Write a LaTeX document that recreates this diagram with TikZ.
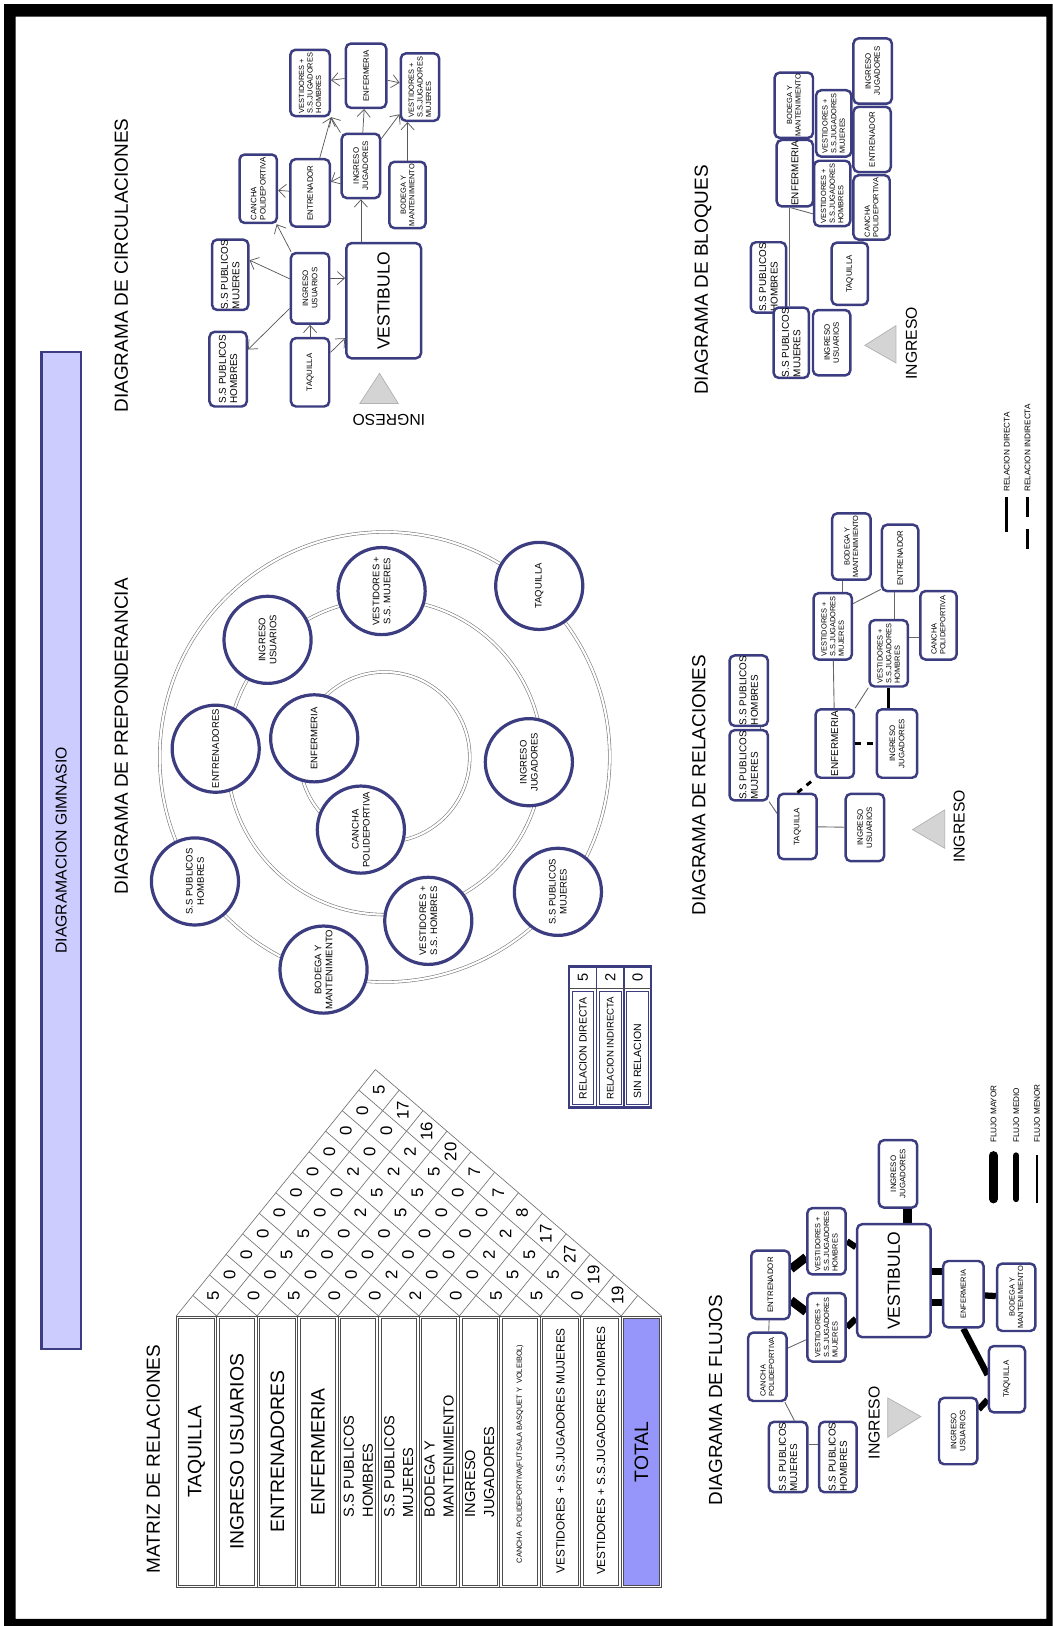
\documentclass[tikz,border=0pt]{standalone}
\usepackage{fontspec}
\setmainfont{Liberation Sans}
\usetikzlibrary{arrows.meta}

\definecolor{navy}{RGB}{60,60,128}
\definecolor{lavender}{RGB}{204,204,255}
\definecolor{totalblue}{RGB}{150,150,250}
\definecolor{ringgray}{RGB}{120,120,120}
\definecolor{trigray}{RGB}{212,212,212}

\newcommand{\fs}[2]{\fontsize{#1}{#2}\selectfont}

\pgfdeclarelayer{bg}
\pgfsetlayers{bg,main}

\tikzset{
  heading/.style={rotate=90, font=\fs{13}{15}},
  rbox/.style 2 args={draw=navy, line width=1.7pt, fill=white, rounded corners=3.5pt,
    rotate=90, inner sep=0.5pt, minimum width=#2*0.25mm, minimum height=#1*0.25mm},
  txtbox/.style={font=\fs{5.4}{6.3}},
  txtsmall/.style={font=\fs{5.1}{5.9}},
  txtss/.style={font=\fs{6.8}{7.8}},
  txtenf/.style={font=\fs{6.8}{7.8}},
  txtbig/.style={font=\fs{12}{13}},
  pcirc/.style={circle, draw=navy, line width=2.2pt, fill=white, inner sep=0pt,
    minimum size=84*0.25mm, rotate=90, align=center, font=\fs{6.5}{7.6}},
  ring/.style={draw=ringgray, line width=0.4pt, double=white, double distance=1.5pt},
  circarrow/.style={draw=black!65, line width=0.5pt, -{Straight Barb[length=5pt,width=9pt]}},
  rel/.style={draw=black!60, line width=0.6pt},
  reldirect/.style={draw=black, line width=2pt},
  relindirect/.style={draw=black, line width=2pt, dash pattern=on 4pt off 4pt},
  flowmax/.style={draw=black, line width=6pt},
  flowmid/.style={draw=black, line width=4.3pt},
  flowmin/.style={draw=black!60, line width=0.6pt},
  strip/.style={draw=black!70, line width=0.6pt},
  cellgrid/.style={draw=black!55, line width=0.45pt},
  cellnum/.style={rotate=90, font=\fs{11.5}{12}, inner sep=0pt},
  mbig/.style={rotate=90, font=\fs{13.3}{15}},
  mmid/.style={rotate=90, anchor=west, align=left, font=\fs{10}{13}},
  mvest/.style={rotate=90, font=\fs{8.1}{9}},
  legbox/.style={rotate=90, font=\fs{7.2}{8}, inner sep=0.5pt},
  legsm/.style={rotate=90, font=\fs{5.6}{6.5}, inner sep=0.5pt},
  entry/.style={draw=gray!60, fill=trigray, line width=0.5pt},
  ingreso/.style={font=\fs{10.8}{12}}
}

\begin{document}
\begin{tikzpicture}[x=0.25mm, y=-0.25mm]
\useasboundingbox (0,0) rectangle (1015,1568);
% frame
\fill[black, even odd rule] (4,4) rectangle (1015,1568) (15,16) rectangle (1009,1561);
% title bar
\node[draw=navy, line width=1.4pt, fill=lavender, rotate=90, minimum width=962*0.25mm,
  minimum height=38*0.25mm, font=\fs{10.8}{12}] (bar) at (59,820) {DIAGRAMACION GIMNASIO};
% headings
\node[heading] (tCirc) at (117,256) {DIAGRAMA DE CIRCULACIONES};
\node[heading] (tPrep) at (117,710) {DIAGRAMA DE PREPONDERANCIA};
\node[heading] (tMat) at (148,1407) {MATRIZ DE RELACIONES};
\node[heading] (tRel) at (674,757) {DIAGRAMA DE RELACIONES};
\node[heading] (tBlo) at (678,270) {DIAGRAMA DE BLOQUES};
\node[heading] (tFlu) at (690,1350) {DIAGRAMA DE FLUJOS};

% ---------- preponderancia
\draw[ring] (371,730) circle[radius=217*0.25mm];
\draw[ring] (371,730) circle[radius=152*0.25mm];
\draw[ring] (371,730) circle[radius=82*0.25mm];
\node[pcirc] (pTAQ) at (520,565) {TAQUILLA};
\node[pcirc] (pVSM) at (368,570) {VESTIDORES +\\S.S. MUJERES};
\node[pcirc] (pIU) at (258,617) {INGRESO\\USUARIOS};
\node[pcirc] (pENT) at (208,722) {ENTRENADORES};
\node[pcirc] (pENF) at (303,712) {ENFERMERIA};
\node[pcirc] (pCAN) at (348,800) {CANCHA\\POLIDEPORTIVA};
\node[pcirc] (pIJ) at (510,735) {INGRESO\\JUGADORES};
\node[pcirc] (pSSH) at (188,850) {S.S PUBLICOS\\HOMBRES};
\node[pcirc] (pVSH) at (413,888) {VESTIDORES +\\S.S. HOMBRES};
\node[pcirc] (pSSM) at (538,860) {S.S PUBLICOS\\MUJERES};
\node[pcirc] (pBOD) at (312,935) {BODEGA Y\\MANTENIMIENTO};

% ---------- matriz de relaciones
\foreach \k in {0,...,10}
  \draw[strip] (170+39*\k,1269) rectangle (209+39*\k,1531)
    (172.5+39*\k,1271.5) rectangle (206.5+39*\k,1528.5);
\draw[strip] (599,1269) rectangle (638,1531);
\draw[strip, fill=totalblue] (601.5,1271.5) rectangle (635.5,1528.5);
% diamond grid
\foreach \k in {0,...,11}
  \draw[cellgrid] (170+39*\k,1269) -- ++(16*12-16*\k,-19.8*12+19.8*\k);
\foreach \k in {1,...,12}
  \draw[cellgrid] (170+39*\k,1269) -- (170+16*\k,1269-19.8*\k);
% cell values, one diagonal per space
\foreach \i/\vals in {1/{5,0,0,0,0,0,0,0,0,0,5},2/{0,0,5,5,0,0,2,0,0,17},
    3/{5,0,0,0,2,5,2,2,16},4/{0,0,0,0,5,5,5,20},5/{0,2,0,0,0,0,7},6/{2,0,0,0,0,7},
    7/{0,0,2,2,8},8/{5,5,5,17},9/{5,5,27},10/{0,19},11/{19}}
  \foreach \v [count=\k] in \vals
    \node[cellnum] (n\i-\k) at (150.5+39*\i+16*\k,1269-19.8*\k) {\v};
% space labels
\node[mbig] (mTAQ) at (189.5,1400) {TAQUILLA};
\node[mbig] (mIU) at (228.5,1400) {INGRESO USUARIOS};
\node[mbig] (mENT) at (267.5,1400) {ENTRENADORES};
\node[mbig] (mENF) at (306.5,1400) {ENFERMERIA};
\node[mmid] (mSSH) at (345.5,1468) {S.S PUBLICOS\\HOMBRES};
\node[mmid] (mSSM) at (384.5,1468) {S.S PUBLICOS\\MUJERES};
\node[mmid] (mBOD) at (423.5,1468) {BODEGA Y\\MANTENIMIENTO};
\node[mmid] (mIJ) at (462.5,1468) {INGRESO\\JUGADORES};
\node[rotate=90, font=\fs{5.1}{6}] (mCAN) at (501.5,1402) {CANCHA\ \ POLIDEPORTIVA(FUTSALA BASQUET Y\ \ VOLEIBOL)};
\node[mvest] (mVSM) at (540.5,1399) {VESTIDORES + S.S.JUGADORES MUJERES};
\node[mvest] (mVSH) at (579.5,1399) {VESTIDORES + S.S.JUGADORES HOMBRES};
\node[mbig] (mTOT) at (618.5,1400) {TOTAL};
% relation values
\draw[navy, line width=1.5pt] (549,932) rectangle (628,1068);
\draw[navy, line width=1.2pt] (575.3,932) -- (575.3,1068) (601.7,932) -- (601.7,1068);
\draw[black!70, line width=0.6pt] (549,953.5) -- (628,953.5);
\foreach \k in {0,1,2}
  \draw[navy, line width=0.6pt] (551.8+26.3*\k,956) rectangle (572.5+26.3*\k,1065.5);
\node[legbox] (vDir) at (562.2,1011) {RELACION DIRECTA};
\node[legbox, font=\fs{6.6}{7.5}] (vInd) at (588.5,1011) {RELACION INDIRECTA};
\node[legbox, anchor=west] (vSin) at (614.8,1060) {SIN RELACION};
\node[cellnum, font=\fs{10}{11}] (vD) at (562.2,943) {5};
\node[cellnum, font=\fs{10}{11}] (vI) at (588.5,943) {2};
\node[cellnum, font=\fs{10}{11}] (vS) at (614.8,943) {0};

% ---------- circulaciones
\node[rbox={36}{72}, txtss, align=left] (cSSH) at (220,356) {S.S PUBLICOS\\HOMBRES};
\node[rbox={35}{64}, txtss, align=left] (cSSM) at (222,265) {S.S PUBLICOS\\MUJERES};
\node[rbox={37}{68}, txtbox, align=center] (cIU) at (299,278) {INGRESO\\USUARIOS};
\node[rbox={37}{66}, txtbox] (cTAQ) at (299,359) {TAQUILLA};
\node[rbox={72}{111}, txtbig] (cVES) at (370,290) {VESTIBULO};
\node[rbox={36}{66}, txtbox, align=left] (cCAN) at (249,182) {CANCHA\\POLIDEPORTIVA};
\node[rbox={38}{65}, txtbox] (cENT) at (299,186) {ENTRENADOR};
\node[rbox={37}{62}, txtbox, align=center] (cIJ) at (348,160) {INGRESO\\JUGADORES};
\node[rbox={35}{64}, txtsmall, align=center] (cBOD) at (393,188) {BODEGA Y\\MANTENIMIENTO};
\node[rbox={38}{64}, txtsmall, align=left] (cVSH) at (299,80) {VESTIDORES +\\S.S.JUGADORES\\HOMBRES};
\node[rbox={39}{62}, txtbox] (cENF) at (353,73) {ENFERMERIA};
\node[rbox={37}{65}, txtsmall, align=left] (cVSM) at (405,84) {VESTIDORES +\\S.S.JUGADORES\\MUJERES};
\draw[circarrow] (cTAQ) -- (cIU);
\draw[circarrow] (cTAQ) -- (cVES);
\draw[circarrow] (cIU) -- (cSSH);
\draw[circarrow] (cIU) -- ([yshift=10pt]cSSM.south);
\draw[circarrow] ([yshift=7pt]cIU.south) -- ([yshift=7pt]cIU.south -| cVES.north);
\draw[circarrow] (cIU) -- (cCAN);
\draw[circarrow] (cIJ.west |- cVES.east) -- (cIJ.west);
\draw[circarrow] (cIJ) -- (cENT);
\draw[circarrow] (cENT) -- (cCAN);
\draw[circarrow] (cENT) -- (cVSH.south west);
\draw[circarrow] (cIJ) -- (cVSH);
\draw[circarrow] (cIJ) -- (cENF);
\draw[circarrow] (cIJ) -- (cVSM);
\draw[circarrow] (cENF) -- (cVSH);
\draw[circarrow] (cENF) -- (cVSM);
\draw[circarrow] (cBOD) -- (cBOD |- cVSM.west);
\draw[entry] (366,360) -- (347,389) -- (384,389) -- cycle;
\node[ingreso, rotate=180] (cIN) at (375,405) {INGRESO};

% ---------- bloques
\node[rbox={34}{61}, txtss, align=left] (bSSH) at (741,267.5) {S.S PUBLICOS\\HOMBRES};
\node[rbox={34}{63}, txtss, align=left] (bSSM) at (763,330.5) {S.S PUBLICOS\\MUJERES};
\node[rbox={36}{63}, txtbox, align=center] (bIU) at (802,330.5) {INGRESO\\USUARIOS};
\node[rbox={35}{60}, txtbox] (bTAQ) at (819.5,264) {TAQUILLA};
\node[rbox={35}{62}, txtenf] (bENF) at (766.5,167) {ENFERMERIA};
\node[rbox={37}{63}, txtsmall, align=center] (bBOD) at (765.5,101.5) {BODEGA Y\\MANTENIMIENTO};
\node[rbox={35}{63}, txtsmall, align=left] (bVSH) at (802.5,186.5) {VESTIDORES +\\S.S.JUGADORES\\HOMBRES};
\node[rbox={34}{64}, txtsmall, align=left] (bVSM) at (804,119) {VESTIDORES +\\S.S.JUGADORES\\MUJERES};
\node[rbox={35}{62}, txtsmall, align=left] (bCAN) at (840.5,200) {CANCHA\\POLIDEPORTIVA};
\node[rbox={36}{63}, txtbox] (bENT) at (841,134.5) {ENTRENADOR};
\node[rbox={37}{63}, txtbox, align=center] (bIJ) at (841.5,68.5) {INGRESO\\JUGADORES};
\draw[rel] ([xshift=-4pt]bENF.west) -- ([xshift=-4pt]bENF.west |- bSSM.east);
\draw[rel] ([xshift=-3pt]bENF.west) -- ([yshift=-14pt]bVSH.north);
\draw[rel] (bTAQ) -- (bCAN);
\draw[entry] (834,333) -- (864,314) -- (864,350) -- cycle;
\node[ingreso, rotate=90] (bIN) at (879,331) {INGRESO};

% ---------- relaciones
\node[rbox={37}{66}, txtss, align=left] (rSSM) at (722,738) {S.S PUBLICOS\\MUJERES};
\node[rbox={37}{66}, txtss, align=left] (rSSH) at (722,666) {S.S PUBLICOS\\HOMBRES};
\node[rbox={37}{63}, txtbox] (rTAQ) at (769,797) {TAQUILLA};
\node[rbox={37}{65}, txtbox, align=center] (rIU) at (834,798) {INGRESO\\USUARIOS};
\node[rbox={37}{66}, txtenf] (rENF) at (805,717) {ENFERMERIA};
\node[rbox={39}{66}, txtbox, align=center] (rIJ) at (865,717) {INGRESO\\JUGADORES};
\node[rbox={37}{64}, txtsmall, align=left] (rVSM) at (803,604) {VESTIDORES +\\S.S.JUGADORES\\MUJERES};
\node[rbox={37}{64}, txtsmall, align=left] (rVSH) at (857,630) {VESTIDORES +\\S.S.JUGADORES\\HOMBRES};
\node[rbox={37}{64}, txtsmall, align=center] (rBOD) at (821,527) {BODEGA Y\\MANTENIMIENTO};
\node[rbox={35}{64}, txtbox] (rENT) at (868,538) {ENTRENADOR};
\node[rbox={35}{66}, txtsmall, align=left] (rCAN) at (905,603) {CANCHA\\POLIDEPORTIVA};
\draw[rel] ([xshift=8pt]rSSM.east) -- ([xshift=8pt]rSSH.west);
\draw[rel] (rSSM.south west) -- ([yshift=9pt]rTAQ.north);
\draw[rel] (rTAQ) -- (rIU);
\draw[relindirect] (rTAQ.east) -- (rENF.north west);
\draw[relindirect] (rENF) -- (rIJ);
\draw[rel] (rENF) -- (rVSM);
\draw[rel] (rENF.south east) -- (rVSH.north west);
\draw[reldirect] (rVSH.west) -- (rVSH.west |- rIJ.east);
\draw[rel] ([xshift=-6pt]rBOD.west) -- ([xshift=-6pt]rBOD.west |- rVSM.east);
\draw[rel] ([yshift=-8pt]rVSM.south east) -- ([yshift=2pt]rENT.north west);
\draw[rel] ([xshift=-4pt]rENT.west) -- ([xshift=-4pt]rENT.west |- rVSH.east);
\draw[rel] ([yshift=11pt]rVSH.south) -- ([yshift=11pt]rVSH.south -| rCAN.north);
\draw[entry] (880,800) -- (911,781) -- (911,818) -- cycle;
\node[ingreso, rotate=90] (rIN) at (925,797) {INGRESO};
% legend
\node[legsm, anchor=west] (lgDir) at (971,475) {RELACION DIRECTA};
\draw[reldirect] ([yshift=-3pt]lgDir.west) -- ++(0,34);
\node[legsm, anchor=west] (lgInd) at (991,475) {RELACION INDIRECTA};
\draw[relindirect, dash pattern=on 14pt off 8pt] ([yshift=-3pt]lgInd.west) -- ++(0,52);

% ---------- flujos
\node[rbox={37}{66}, txtss, align=left] (fSSM) at (760,1405) {S.S PUBLICOS\\MUJERES};
\node[rbox={36}{66}, txtss, align=left] (fSSH) at (808,1405) {S.S PUBLICOS\\HOMBRES};
\node[rbox={37}{66}, txtsmall, align=left] (fCAN) at (740,1318) {CANCHA\\POLIDEPORTIVA};
\node[rbox={37}{66}, txtbox] (fENT) at (743,1239) {ENTRENADOR};
\node[rbox={37}{66}, txtsmall, align=left] (fVSM) at (797,1280) {VESTIDORES +\\S.S.JUGADORES\\MUJERES};
\node[rbox={37}{64}, txtsmall, align=left] (fVSH) at (797,1197) {VESTIDORES +\\S.S.JUGADORES\\HOMBRES};
\node[rbox={71}{109}, txtbig] (fVES) at (862,1235) {VESTIBULO};
\node[rbox={37}{65}, txtbox, align=center] (fIJ) at (866,1132) {INGRESO\\JUGADORES};
\node[rbox={39}{64}, txtsmall] (fENF) at (929,1248) {ENFERMERIA};
\node[rbox={37}{65}, txtsmall, align=center] (fBOD) at (980,1251) {BODEGA Y\\MANTENIMIENTO};
\node[rbox={35}{64}, txtbox] (fTAQ) at (971,1330) {TAQUILLA};
\node[rbox={37}{64}, txtbox, align=center] (fIU) at (924,1380) {INGRESO\\USUARIOS};
\begin{pgfonlayer}{bg}
\draw[flowmin] ([yshift=8.5pt]fSSM.south) -- ([yshift=8.5pt]fSSM.south -| fSSH.north);
\draw[flowmin] ([xshift=4.3pt]fSSM.east) -- ([xshift=12pt]fCAN.west);
\draw[flowmin] (fCAN) -- (fENT);
\draw[flowmin] ([yshift=12.8pt]fCAN.south) -- ([yshift=-8.5pt]fVSM.north);
\draw[flowmax] (fENT) -- (fVSM);
\draw[flowmax] (fENT) -- (fVSH);
\draw[flowmid] (fVSH.south) -- ([yshift=-4pt]fVSH.south -| fVES.north);
\draw[flowmid] (fVSM.south) -- ([yshift=6pt]fVSM.south -| fVES.north);
\draw[flowmax] ([xshift=6.4pt]fIJ.west) -- ([xshift=6.4pt]fIJ.west |- fVES.east);
\draw[flowmid] ([yshift=6.4pt]fVES.south) -- ([yshift=6.4pt]fVES.south -| fENF.north);
\draw[flowmid] ([yshift=-15pt]fVES.south) -- ([yshift=-15pt]fVES.south -| fENF.north);
\draw[flowmid] (fENF) -- (fBOD);
\draw[flowmid] (fENF.west) -- ([yshift=3pt]fTAQ.north);
\draw[flowmid] (fTAQ) -- (fIU);
\end{pgfonlayer}
\draw[entry] (888,1366) -- (856,1348) -- (856,1386) -- cycle;
\node[ingreso, rotate=90] (fIN) at (843,1372) {INGRESO};
% legend
\node[legsm, anchor=west] (lgMay) at (958,1103) {FLUJO MAYOR};
\draw[flowmax, line cap=round] ([yshift=-8pt]lgMay.west) -- ++(0,42);
\node[legsm, anchor=west] (lgMed) at (980,1103) {FLUJO MEDIO};
\draw[flowmid, line cap=round] ([yshift=-8pt]lgMed.west) -- ++(0,42);
\node[legsm, anchor=west] (lgMen) at (1000,1103) {FLUJO MENOR};
\draw[black, line width=0.7pt] ([yshift=-8pt]lgMen.west) -- ++(0,46);
\end{tikzpicture}
\end{document}
